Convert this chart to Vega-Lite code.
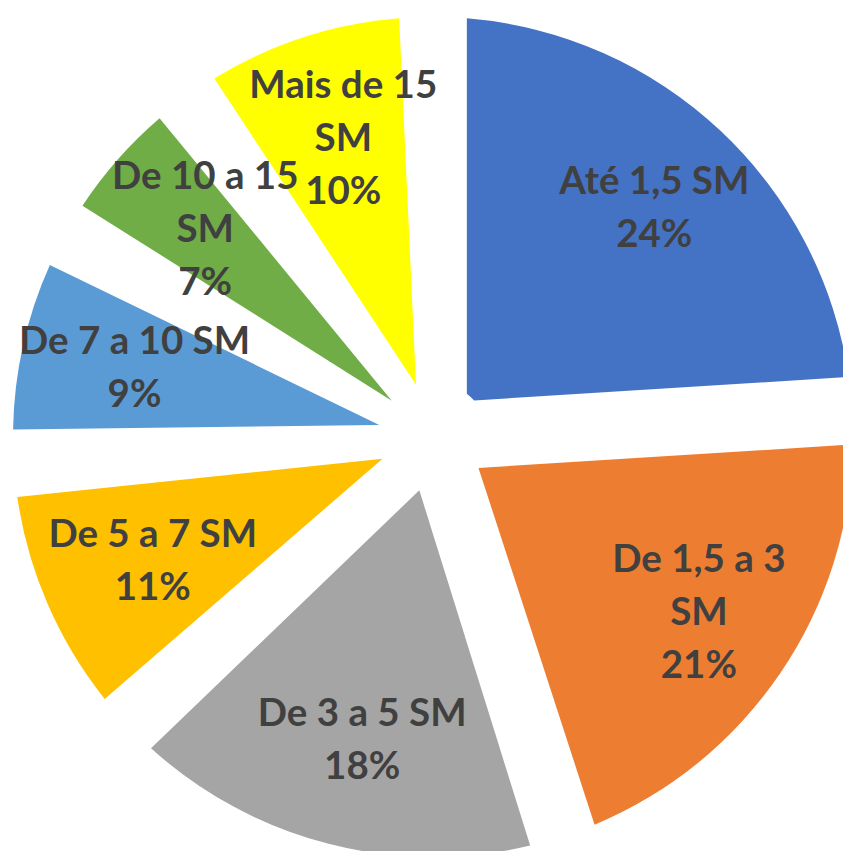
{
  "$schema": "https://vega.github.io/schema/vega-lite/v6.json",
  "autosize": {"type": "none"},
  "width": 820,
  "height": 828,
  "padding": {"left": 23, "top": 23, "right": 0, "bottom": 0},
  "background": "white",
  "view": {"stroke": null},
  "data": {
    "values": [
      {"ordem": 1, "faixa": "Até 1,5 SM", "pct": 24, "rotulo": "Até 1,5 SM\n24%"},
      {"ordem": 2, "faixa": "De 1,5 a 3 SM", "pct": 21, "rotulo": "De 1,5 a 3\nSM\n21%"},
      {"ordem": 3, "faixa": "De 3 a 5 SM", "pct": 18, "rotulo": "De 3 a 5 SM\n18%"},
      {"ordem": 4, "faixa": "De 5 a 7 SM", "pct": 11, "rotulo": "De 5 a 7 SM\n11%"},
      {"ordem": 5, "faixa": "De 7 a 10 SM", "pct": 9, "rotulo": "De 7 a 10 SM\n9%"},
      {"ordem": 6, "faixa": "De 10 a 15 SM", "pct": 7, "rotulo": "De 10 a 15\nSM\n7%"},
      {"ordem": 7, "faixa": "Mais de 15 SM", "pct": 10, "rotulo": "Mais de 15\nSM\n10%"}
    ]
  },
  "encoding": {
    "theta": {"field": "pct", "type": "quantitative", "stack": true},
    "order": {"field": "ordem", "type": "quantitative"}
  },
  "layer": [
    {
      "mark": {"type": "arc", "outerRadius": 420, "innerRadius": 55, "padAngle": 0.16},
      "encoding": {
        "color": {
          "field": "faixa",
          "type": "nominal",
          "sort": null,
          "scale": {
            "domain": ["Até 1,5 SM", "De 1,5 a 3 SM", "De 3 a 5 SM", "De 5 a 7 SM", "De 7 a 10 SM", "De 10 a 15 SM", "Mais de 15 SM"],
            "range": ["#4472C4", "#ED7D31", "#A5A5A5", "#FFC000", "#5B9BD5", "#70AD47", "#FFFF00"]
          },
          "legend": null
        }
      }
    },
    {
      "mark": {
        "type": "text",
        "radius": 313,
        "font": "Lato",
        "fontWeight": "bold",
        "fontSize": 38.5,
        "lineBreak": "\n",
        "lineHeight": 53,
        "align": "center",
        "baseline": "middle",
        "dx": 7,
        "dy": -26.5,
        "color": "#404040"
      },
      "encoding": {
        "text": {
          "condition": {"test": "length(split(datum.rotulo, '\\n')) == 2", "field": "rotulo"},
          "value": ""
        }
      }
    },
    {
      "mark": {
        "type": "text",
        "radius": 313,
        "font": "Lato",
        "fontWeight": "bold",
        "fontSize": 38.5,
        "lineBreak": "\n",
        "lineHeight": 53,
        "align": "center",
        "baseline": "middle",
        "dx": 7,
        "dy": -53,
        "color": "#404040"
      },
      "encoding": {
        "text": {
          "condition": {"test": "length(split(datum.rotulo, '\\n')) == 3", "field": "rotulo"},
          "value": ""
        }
      }
    }
  ]
}
